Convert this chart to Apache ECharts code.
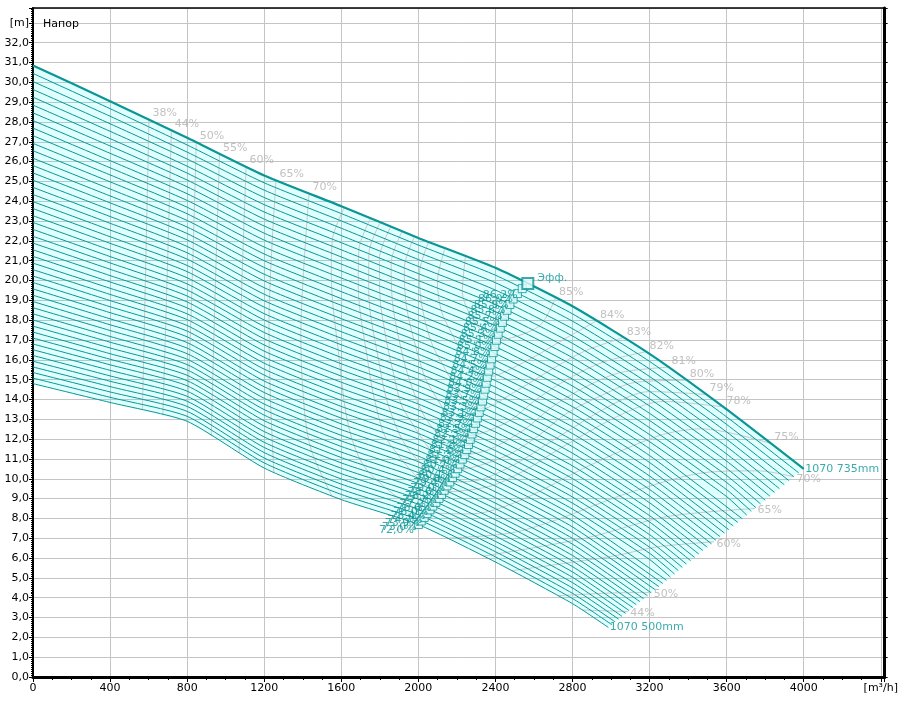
<!DOCTYPE html>
<html><head><meta charset="utf-8">
<script src="https://cdn.jsdelivr.net/npm/echarts/dist/echarts.min.js"></script>
<style>html,body{margin:0;padding:0;background:#fff}#c{width:901px;height:702px}</style>
</head><body><div id="c"></div>
<script>
// ---- data ----
const pumpCode = '1070';
const flowGrid = [0, 400, 800, 1200, 1600, 2000, 2400, 2800, 3200, 3600];
const diameters = [500,505,510,515,520,525,530,535,540,545,550,555,560,565,570,575,580,585,590,595,600,605,610,615,620,625,630,635,640,645,650,655,660,665,670,675,680,685,690,695,700,705,710,715,720,725,730,735];
const headCurves = [
[14.8,13.85,12.9,10.54,8.95,7.69,5.8,3.7],
[15.08,14.11,13.15,10.8,9.21,7.94,6.06,3.96],
[15.36,14.38,13.4,11.05,9.47,8.19,6.32,4.22],
[15.64,14.65,13.65,11.32,9.73,8.45,6.58,4.49],
[15.93,14.92,13.91,11.58,9.99,8.71,6.84,4.76],
[16.22,15.19,14.16,11.84,10.26,8.97,7.11,5.03],
[16.51,15.47,14.42,12.11,10.53,9.23,7.38,5.3],
[16.8,15.75,14.69,12.38,10.8,9.5,7.65,5.57],
[17.1,16.03,14.95,12.66,11.07,9.76,7.93,5.85],
[17.4,16.31,15.22,12.93,11.35,10.03,8.2,6.13],
[17.7,16.6,15.49,13.21,11.63,10.31,8.49,6.41],
[18.01,16.89,15.76,13.49,11.91,10.58,8.77,6.7],
[18.32,17.18,16.03,13.77,12.19,10.86,9.05,6.99],
[18.63,17.48,16.31,14.06,12.48,11.14,9.34,7.28],
[18.94,17.77,16.59,14.35,12.77,11.42,9.63,7.57],
[19.26,18.07,16.87,14.64,13.06,11.71,9.92,7.87],
[19.58,18.38,17.16,14.93,13.36,12.0,10.22,8.17],
[19.9,18.68,17.45,15.23,13.65,12.29,10.52,8.47,5.93],
[20.23,18.99,17.73,15.53,13.95,12.58,10.82,8.77,6.24],
[20.55,19.3,18.03,15.83,14.25,12.87,11.12,9.08,6.55],
[20.88,19.61,18.32,16.13,14.56,13.17,11.42,9.39,6.86],
[21.22,19.93,18.62,16.44,14.87,13.47,11.73,9.7,7.18],
[21.55,20.25,18.92,16.75,15.18,13.77,12.04,10.01,7.5],
[21.89,20.57,19.22,17.06,15.49,14.08,12.36,10.33,7.82],
[22.23,20.89,19.52,17.38,15.8,14.39,12.67,10.65,8.14],
[22.58,21.21,19.83,17.69,16.12,14.7,12.99,10.97,8.46],
[22.93,21.54,20.14,18.01,16.44,15.01,13.31,11.29,8.79],
[23.27,21.88,20.45,18.33,16.76,15.33,13.64,11.62,9.13],
[23.63,22.21,20.76,18.66,17.09,15.64,13.96,11.95,9.46],
[23.98,22.55,21.08,18.98,17.42,15.96,14.29,12.28,9.8],
[24.34,22.89,21.4,19.31,17.75,16.29,14.62,12.62,10.14],
[24.7,23.23,21.72,19.64,18.08,16.61,14.95,12.95,10.48],
[25.06,23.57,22.05,19.98,18.42,16.94,15.29,13.29,10.82],
[25.43,23.92,22.37,20.32,18.75,17.27,15.63,13.64,11.17],
[25.8,24.27,22.7,20.66,19.09,17.6,15.97,13.98,11.52],
[26.17,24.62,23.03,21.0,19.44,17.94,16.31,14.33,11.87,9.1],
[26.55,24.98,23.37,21.34,19.78,18.27,16.66,14.68,12.23,9.45],
[26.92,25.33,23.7,21.69,20.13,18.61,17.01,15.03,12.58,9.81],
[27.31,25.69,24.04,22.04,20.48,18.96,17.36,15.39,12.94,10.16],
[27.69,26.05,24.38,22.39,20.83,19.3,17.72,15.74,13.3,10.52],
[28.07,26.42,24.73,22.75,21.19,19.65,18.07,16.11,13.67,10.89],
[28.46,26.79,25.07,23.1,21.55,20.0,18.43,16.47,14.04,11.25],
[28.85,27.16,25.42,23.46,21.91,20.35,18.79,16.83,14.41,11.62],
[29.25,27.53,25.77,23.83,22.27,20.71,19.16,17.2,14.78,11.99],
[29.64,27.91,26.13,24.19,22.64,21.06,19.52,17.57,15.16,12.36],
[30.04,28.29,26.48,24.56,23.01,21.42,19.89,17.95,15.54,12.74],
[30.45,28.67,26.84,24.93,23.38,21.79,20.27,18.32,15.92,13.12],
[30.85,29.05,27.2,25.3,23.75,22.15,20.64,18.7,16.3,13.5]
];
const endFlow = [2986,3004,3021,3039,3057,3076,3094,3113,3131,3150,3169,3189,3208,3228,3248,3268,3288,3308,3329,3349,3370,3391,3413,3434,3456,3477,3499,3521,3544,3566,3589,3611,3634,3658,3681,3704,3728,3752,3776,3800,3825,3849,3874,3899,3924,3949,3974,4000];
const endHead = [2.5,2.64,2.78,2.92,3.06,3.21,3.35,3.5,3.65,3.8,3.95,4.1,4.25,4.41,4.56,4.72,4.88,5.04,5.2,5.37,5.53,5.7,5.87,6.03,6.2,6.38,6.55,6.72,6.9,7.08,7.26,7.43,7.62,7.8,7.98,8.17,8.36,8.54,8.73,8.92,9.12,9.31,9.5,9.7,9.9,10.1,10.3,10.5];
const bepFlow = [2000,2015,2030,2045,2060,2075,2091,2107,2120,2134,2148,2163,2177,2191,2204,2216,2228,2241,2251,2260,2269,2278,2287,2297,2306,2316,2325,2333,2339,2346,2352,2358,2365,2372,2380,2388,2397,2405,2414,2425,2436,2447,2460,2475,2492,2514,2539,2568];
const bepHead = [7.69,7.87,8.05,8.24,8.43,8.62,8.81,9.01,9.21,9.42,9.64,9.84,10.06,10.28,10.51,10.74,10.99,11.22,11.48,11.73,11.99,12.26,12.53,12.8,13.07,13.35,13.63,13.92,14.22,14.52,14.82,15.12,15.43,15.74,16.05,16.36,16.67,16.99,17.29,17.6,17.89,18.2,18.5,18.79,19.07,19.34,19.59,19.85];
const bepEff = [72.0,73.0,73.9,74.7,75.4,76.0,76.6,77.2,77.7,78.2,78.6,79.0,79.4,79.8,80.1,80.4,80.7,81.0,81.3,81.6,81.8,82.1,82.3,82.5,82.7,82.9,83.1,83.3,83.5,83.7,83.9,84.0,84.2,84.4,84.5,84.7,84.8,85.0,85.1,85.3,85.4,85.5,85.7,85.8,85.9,86.0,86.2,86.3];
const bepTopLabel = 'Эфф.';

// iso-efficiency lines [Q, H]
const contourBranches = [
[[602,28.12],[585,20.8],[568,13.47]],
[[718,27.58],[697,20.4],[674,13.2]],
[[847,26.98],[826,19.9],[800,12.9]],
[[968,26.4],[945,19.3],[925,12.16]],
[[1106,25.75],[1080,18.5],[1070,11.3]],
[[1261,25.05],[1225,17.82],[1232,14.1],[1250,10.34]],
[[1433,24.4],[1390,17.15],[1409,13.41],[1445,11.42],[1550,9.15]],
[[1616,23.69],[1554,22.08],[1548,20.25],[1585,16.41],[1641,12.51],[1741,10.35],[2051,8.32],[2275,8.23],[2522,8.88],[2886,10.66],[3248,12.17],[3470,12.52],[3829,11.78]],
[[1752,23.14],[1691,21.55],[1688,19.72],[1739,15.85],[1775,13.89],[1846,11.83],[2128,9.34],[2374,9.63],[2568,10.51],[2735,11.53],[3068,13.31],[3271,13.9],[3581,13.63]],
[[1802,22.94],[1743,21.35],[1742,19.51],[1800,15.64],[1846,13.65],[1949,11.48],[2163,9.84],[2309,9.92],[2512,10.79],[2679,11.82],[3002,13.72],[3199,14.4],[3493,14.25]],
[[1857,22.72],[1798,21.13],[1800,19.29],[1827,17.36],[1869,15.39],[1931,13.36],[2201,10.45],[2448,11.12],[2617,12.13],[2763,13.26],[2934,14.13],[3124,14.86],[3390,14.97]],
[[1916,22.49],[1859,20.89],[1864,19.05],[1898,17.1],[1950,15.1],[2048,12.9],[2241,11.22],[2371,11.49],[2549,12.47],[2692,13.61],[2859,14.59],[3044,15.35],[3296,15.63]],
[[1980,22.23],[1927,20.63],[1937,18.77],[1983,16.79],[2056,14.69],[2276,12.21],[2467,12.89],[2613,14.01],[2779,15.05],[2957,15.88],[3182,16.41]],
[[2053,21.95],[2005,20.32],[2024,18.44],[2093,16.34],[2320,13.49],[2518,14.49],[2688,15.5],[2863,16.44],[3063,17.12]],
[[2138,21.63],[2099,19.96],[2139,17.98],[2358,15.12],[2579,16.04],[2756,17.04],[2924,17.96]],
[[2245,21.23],[2228,19.46],[2405,16.99],[2624,17.68],[2712,19.13]],
[[2146,7.0],[2477,7.26],[2711,7.91],[3101,9.32],[3512,10.34],[3764,10.4],[3949,10.1]],
[[2337,6.1],[2869,7.01],[3289,8.09],[3747,8.5]],
[[2483,5.36],[3012,6.1],[3236,6.56],[3534,6.82]],
[[2724,4.1],[3007,4.24],[3209,4.26]],
[[2850,3.38],[3087,3.3]]
];
const topLabelText = ['38%','44%','50%','55%','60%','65%','70%','85%','84%','83%','82%','81%','80%','79%','78%','75%'];
const topLabelFlow = [602,718,847,968,1106,1261,1433,2712,2924,3063,3182,3296,3390,3493,3581,3829];
const topLabelHead = [28.12,27.58,26.98,26.4,25.75,25.05,24.4,19.13,17.96,17.12,16.41,15.63,14.97,14.25,13.63,11.78];
const endLabelText = ['70%','65%','60%','50%','44%'];
const endLabelFlow = [3949,3747,3534,3209,3087];
const endLabelHead = [10.1,8.5,6.82,4.26,3.3];

// ---- chart ----
const FONT = 'DejaVu Sans';
const TEAL = '#0b9595';
const GRAYLINE = '#c8c8c8';
const GRAYTXT = '#b2b2b2';
const comma1 = v => v.toFixed(1).replace('.', ',');

function curvePoints(i) {
  const pts = headCurves[i].map((h, k) => [flowGrid[k], h]);
  pts.push([endFlow[i], endHead[i]]);
  return pts;
}
const lastIdx = headCurves.length - 1;

const series = [];
series.push({
  type: 'custom', coordinateSystem: 'cartesian2d', silent: true, z: 1,
  data: [[0, 0]],
  renderItem: (params, api) => {
    const top = curvePoints(lastIdx);
    const bottom = curvePoints(0).reverse();
    return {
      type: 'polygon',
      shape: { points: top.concat(bottom).map(p => api.coord(p)) },
      style: { fill: 'rgba(0,255,255,0.12)' }
    };
  }
});
contourBranches.forEach(b => series.push({
  type: 'line', data: b, smooth: 0.3, symbol: 'none', silent: true, z: 2,
  lineStyle: { color: GRAYLINE, width: 1 }
}));
headCurves.forEach((h, i) => series.push({
  type: 'line', data: curvePoints(i), smooth: 0.2,
  symbol: 'none', silent: true, z: i === lastIdx ? 4 : 3,
  lineStyle: { color: TEAL, width: i === lastIdx ? 2.2 : 1 }
}));
// curve name labels
series.push({
  type: 'scatter', silent: true, z: 6, symbol: 'circle', symbolSize: 1,
  itemStyle: { color: 'rgba(0,0,0,0)' },
  data: [0, lastIdx].map(i => ({
    value: [endFlow[i], endHead[i]],
    label: { show: true, position: 'right', distance: 1, formatter: pumpCode + ' ' + diameters[i] + 'mm',
      color: TEAL, fontSize: 11, fontFamily: FONT }
  }))
});
// BEP markers
series.push({
  type: 'scatter', silent: true, z: 5, symbol: 'rect',
  data: bepFlow.map((q, i) => {
    const isTop = i === lastIdx;
    return {
      value: [q, bepHead[i]],
      symbolSize: isTop ? 11 : 8,
      itemStyle: { color: '#e4ffff', borderColor: TEAL, borderWidth: isTop ? 2 : 1 },
      label: isTop
        ? { show: true, position: 'right', distance: 3, offset: [0, -5], formatter: bepTopLabel, color: TEAL, fontSize: 11, fontFamily: FONT }
        : { show: true, position: 'left', distance: 0, offset: [0, 6], formatter: comma1(bepEff[i]) + '%', color: TEAL, fontSize: 11, fontFamily: FONT }
    };
  })
});
// efficiency labels
series.push({
  type: 'scatter', silent: true, z: 6, symbol: 'circle', symbolSize: 1,
  itemStyle: { color: 'rgba(0,0,0,0)' },
  data: topLabelText.map((t, k) => ({
    value: [topLabelFlow[k], topLabelHead[k]],
    label: { show: true, position: 'right', distance: 1, offset: [2, -6], formatter: t, color: GRAYTXT, fontSize: 11, fontFamily: FONT }
  }))
});
series.push({
  type: 'scatter', silent: true, z: 6, symbol: 'circle', symbolSize: 1,
  itemStyle: { color: 'rgba(0,0,0,0)' },
  data: endLabelText.map((t, k) => ({
    value: [endLabelFlow[k], endLabelHead[k]],
    label: { show: true, position: 'right', distance: 1, offset: [1, 2], formatter: t, color: GRAYTXT, fontSize: 11, fontFamily: FONT }
  }))
});

const chart = echarts.init(document.getElementById('c'), null, { renderer: 'canvas' });
chart.setOption({
  animation: false,
  backgroundColor: '#fff',
  grid: { left: 33, right: 14, top: 8, bottom: 25, containLabel: false },
  graphic: [{ type: 'text', left: 43, top: 19, z: 10,
    style: { text: 'Напор', fill: '#000', font: '11px "DejaVu Sans"' } }],
  xAxis: [{
    type: 'value', min: 0, max: 4420, interval: 400, position: 'bottom',
    axisLine: { show: true, onZero: false, lineStyle: { color: '#000', width: 3 } },
    axisTick: { show: true, length: 5, lineStyle: { color: '#000' } },
    minorTick: { show: true, splitNumber: 4, length: 3, lineStyle: { color: '#000' } },
    axisLabel: { color: '#000', fontSize: 11, fontFamily: FONT, margin: 6,
      formatter: v => v === 4400 ? '[m³/h]' : (v <= 4000 && v % 400 === 0 ? String(v) : '') },
    splitLine: { show: true, lineStyle: { color: '#c4c4c4', width: 1 } }
  }, {
    type: 'value', min: 0, max: 4420, interval: 400, position: 'top',
    axisLine: { show: true, onZero: false, lineStyle: { color: '#000', width: 1.5 } },
    axisTick: { show: false }, axisLabel: { show: false }, splitLine: { show: false }
  }],
  yAxis: [{
    type: 'value', min: 0, max: 33.75, interval: 1, position: 'left',
    axisLine: { show: true, onZero: false, lineStyle: { color: '#000', width: 2 } },
    axisTick: { show: true, length: 4, lineStyle: { color: '#000' } },
    minorTick: { show: true, splitNumber: 10, length: 2, lineStyle: { color: '#000' } },
    axisLabel: { color: '#000', fontSize: 11, fontFamily: FONT, margin: 4,
      formatter: v => v === 33 ? '[m]' : (Number.isInteger(v) ? comma1(v) : '') },
    splitLine: { show: true, lineStyle: { color: '#c4c4c4', width: 1 } }
  }, {
    type: 'value', min: 0, max: 33.75, interval: 1, position: 'right',
    axisLine: { show: true, onZero: false, lineStyle: { color: '#000', width: 3 } },
    axisTick: { show: true, length: 3, lineStyle: { color: '#000' } },
    axisLabel: { show: false }, splitLine: { show: false }
  }],
  series: series
});
</script>
</body></html>
